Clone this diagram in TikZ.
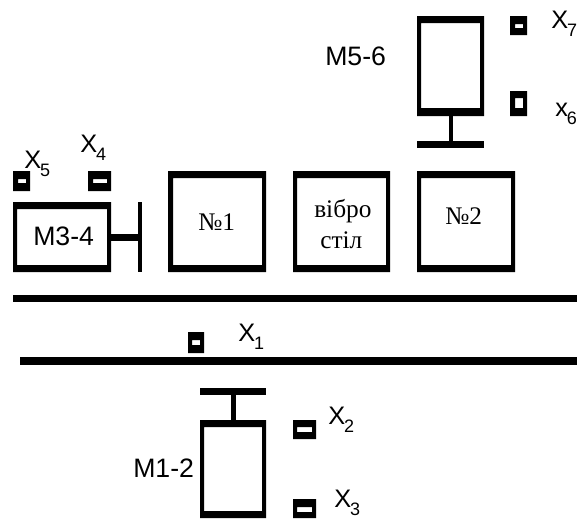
\documentclass[tikz,border=0pt]{standalone}
\usepackage{fontspec}
\setmainfont{Liberation Serif}
\newfontfamily\labfont{Liberation Sans}
\tikzset{
  x=0.75pt,y=-0.75pt,
  ink/.style={fill=black,draw=none},
  frameink/.style={fill=black,draw=none,even odd rule},
  sanslab/.style={inner sep=0pt,anchor=base west,font=\labfont\fontsize{20}{20}\selectfont},
  sensorlab/.style={inner sep=0pt,anchor=base west,font=\labfont\fontsize{19}{19}\selectfont},
  seriflab/.style={inner sep=0pt,anchor=base west,font=\fontsize{19}{19}\selectfont},
}
% frame: outer x1,y1,x2,y2 ; inner x1,y1,x2,y2
\newcommand{\frm}[8]{\fill[frameink] (#1,#2) rectangle (#3,#4) (#5,#6) rectangle (#7,#8);}
\newcommand{\barr}[4]{\fill[ink] (#1,#2) rectangle (#3,#4);}
\newcommand{\xlab}[5]{\node[sensorlab] (#1) at (#2,#3) {#4\kern-0.8pt\raisebox{-6.6pt}{\fontsize{13.5}{13.5}\selectfont #5}};}
\begin{document}
\begin{tikzpicture}
\useasboundingbox (0,0) rectangle (577,518);
% M3-4
\frm{13}{202}{111}{272}{17}{209}{107}{265}
\barr{111}{234}{138}{241}
\barr{137.5}{202}{142}{272}
% No 1, table, No 2
\frm{168}{171}{266}{272}{173}{178}{262}{265}
\frm{293}{171}{390}{272}{297}{178}{386}{265}
\frm{417}{171}{515}{272}{421}{178}{511}{265}
% M5-6
\frm{417}{16}{484}{116}{421}{23}{480}{108}
\barr{449}{116}{453}{142}
\barr{417}{141}{484}{148}
% sensors
\frm{13}{171}{30}{191}{18}{179}{26}{183}
\frm{88}{171}{111}{191}{93}{179}{107}{183}
\frm{510}{16}{527}{35}{515}{24}{523}{28}
\frm{510}{91}{527}{116}{515}{98}{523}{108}
\frm{188}{332}{204}{353}{192}{340}{200}{345}
\frm{293}{420}{316}{439}{297}{427}{312}{432}
\frm{293}{499}{316}{518}{297}{507}{312}{512}
% rails
\barr{13}{295}{577}{302}
\barr{20}{357}{577}{365}
% M1-2
\barr{200}{388}{266}{395}
\barr{231}{395}{236}{421}
\frm{200}{420}{266}{518}{204}{427}{262}{511}
% labels
\xlab{xv}{24}{168}{X}{5}
\xlab{xiv}{80}{152}{X}{4}
\xlab{xvii}{551}{28}{X}{7}
\xlab{xvi}{555}{116}{x}{6}
\xlab{xi}{238}{341}{X}{1}
\xlab{xii}{328}{424}{X}{2}
\xlab{xiii}{334}{507}{X}{3}
\node[sanslab] (m34) at (33,245) {M3-4};
\node[sanslab] (m56) at (325,65) {M5-6};
\node[sanslab] (m12) at (133,477) {M1-2};
\node[seriflab] (n1) at (198,230) {№1};
\node[seriflab] (n2) at (445,224) {№2};
\node[seriflab] (t1) at (314,217) {вібро};
\node[seriflab] (t2) at (320,248) {стіл};
\end{tikzpicture}
\end{document}
